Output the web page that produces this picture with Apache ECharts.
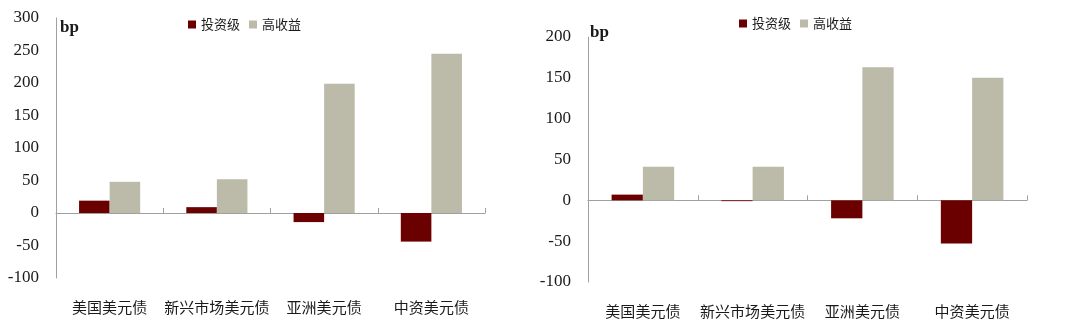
<!DOCTYPE html>
<html>
<head>
<meta charset="utf-8">
<script src="https://cdn.jsdelivr.net/npm/echarts@6/dist/echarts.min.js"></script>
<style>html,body{margin:0;padding:0;background:#fff;}#c{width:1080px;height:326px;}</style>
</head>
<body>
<div id="c"></div>
<script>
var categories = ['美国美元债', '新兴市场美元债', '亚洲美元债', '中资美元债'];
var seriesNames = ['投资级', '高收益'];
var leftIG = [19, 9, -14, -44];
var leftHY = [48, 52, 199, 245];
var rightIG = [7, -1, -22, -53];
var rightHY = [41, 41, 163, 150];
var unitLabel = 'bp';

var RED = '#6a0000', GRAY = '#bcbaa8', AXIS = '#a0a0a0';
var serif = '"Liberation Serif", "DejaVu Serif", serif';
var cjk = '"Noto Sans CJK SC", sans-serif';

function yAxis(grid, min, max) {
  return {
    type: 'value', gridIndex: grid, min: min, max: max, interval: 50,
    splitLine: {show: false},
    axisTick: {show: false},
    axisLine: {show: true, onZero: false, lineStyle: {color: AXIS, width: 1}},
    axisLabel: {color: '#1a1a1a', fontFamily: serif, fontSize: 17, margin: 17}
  };
}
function xAxisZero(grid) {
  return {
    type: 'category', gridIndex: grid, data: categories,
    axisLine: {show: true, onZero: true, lineStyle: {color: AXIS, width: 1}},
    axisTick: {show: true, inside: true, length: 5, interval: 0, lineStyle: {color: AXIS}},
    axisLabel: {show: false, interval: 0}
  };
}
function xAxisLabels(grid) {
  return {
    type: 'category', gridIndex: grid, data: categories, position: 'bottom',
    axisLine: {show: false, onZero: false},
    axisTick: {show: false},
    axisLabel: {show: true, interval: 0, hideOverlap: false, color: '#1a1a1a', fontFamily: cjk, fontSize: 15, margin: 22}
  };
}
function bar(name, data, color, xi, yi) {
  return {
    name: name, type: 'bar', data: data, xAxisIndex: xi, yAxisIndex: yi,
    itemStyle: {color: color}, barGap: '0%', barCategoryGap: '43%', silent: true
  };
}

var chart = echarts.init(document.getElementById('c'), null, {renderer: 'canvas'});
chart.setOption({
  animation: false,
  backgroundColor: '#fff',
  grid: [
    {left: 56, right: 595, top: 18, bottom: 48},
    {left: 588, right: 53, top: 37, bottom: 44}
  ],
  legend: [
    {left: 183, top: 13, itemWidth: 8, itemHeight: 8, itemGap: 9, icon: 'rect',
     data: seriesNames, textStyle: {fontFamily: cjk, fontSize: 13, color: '#1a1a1a'}},
    {left: 734, top: 12, itemWidth: 8, itemHeight: 8, itemGap: 9, icon: 'rect',
     data: seriesNames, textStyle: {fontFamily: cjk, fontSize: 13, color: '#1a1a1a'}}
  ],
  xAxis: [xAxisZero(0), xAxisLabels(0), xAxisZero(1), xAxisLabels(1)],
  yAxis: [yAxis(0, -100, 300), yAxis(1, -100, 200)],
  series: [
    bar(seriesNames[0], leftIG, RED, 0, 0),
    bar(seriesNames[1], leftHY, GRAY, 0, 0),
    bar(seriesNames[0], rightIG, RED, 2, 1),
    bar(seriesNames[1], rightHY, GRAY, 2, 1)
  ],
  graphic: [
    {type: 'text', left: 60, top: 19, style: {text: unitLabel, font: 'bold 17px ' + serif, fill: '#1a1a1a'}},
    {type: 'text', left: 590, top: 24, style: {text: unitLabel, font: 'bold 17px ' + serif, fill: '#1a1a1a'}}
  ]
});
</script>
</body>
</html>
